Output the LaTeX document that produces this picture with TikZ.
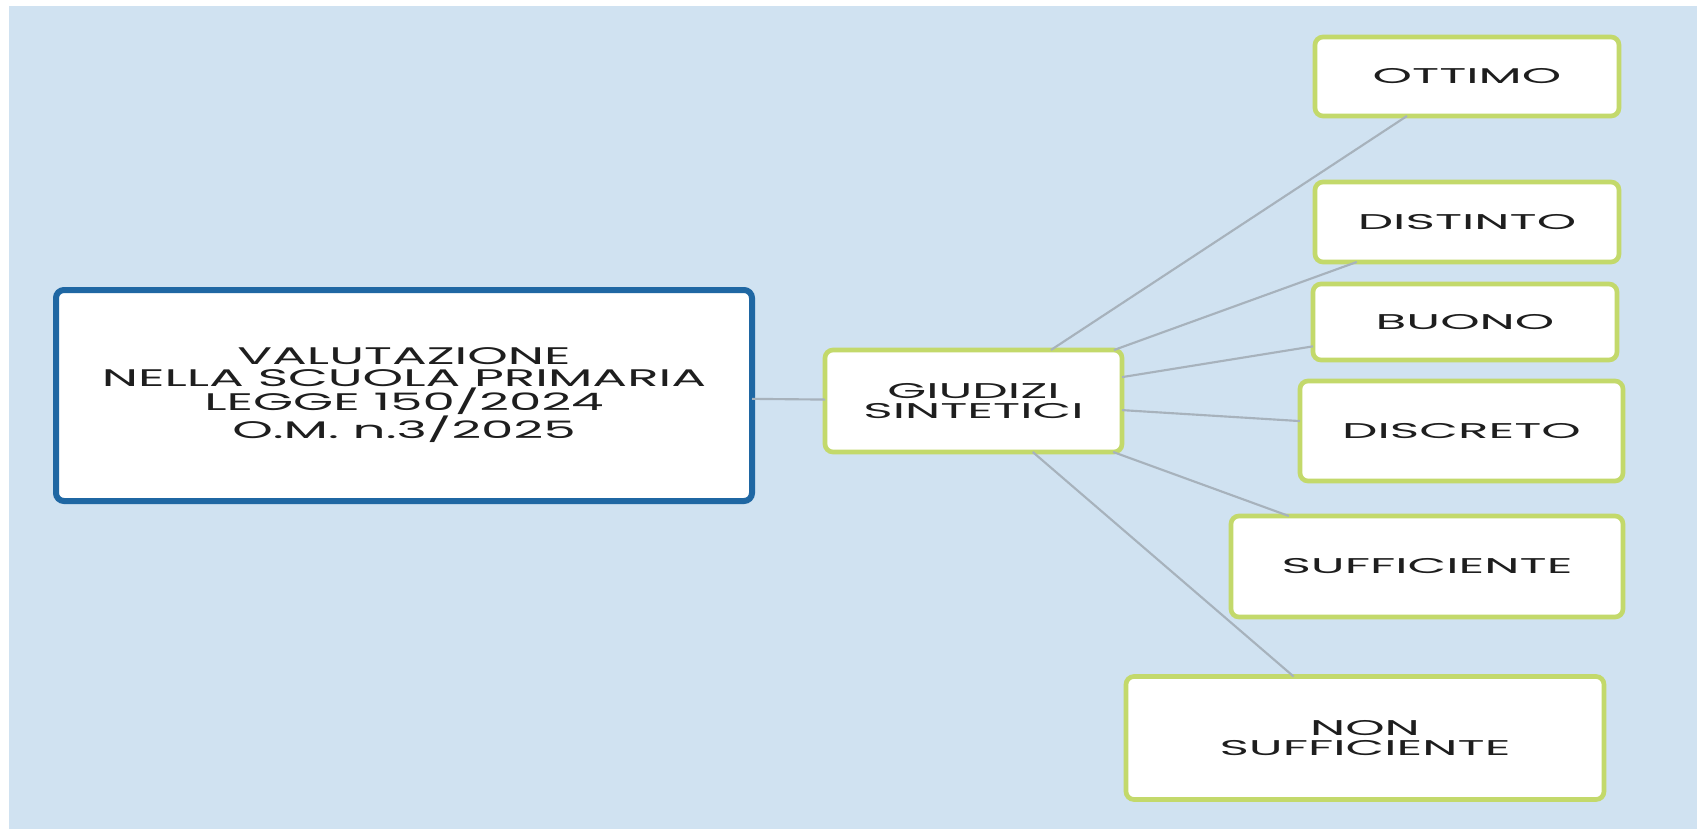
\documentclass[tikz,border=0pt]{standalone}
\usepackage{fontspec}
\setmainfont{Poppins}
\newfontfamily\bigfont{Poppins}[FakeStretch=2.15]
\newfontfamily\smallfont{Poppins}[FakeStretch=2.35]
\definecolor{bgblue}{HTML}{D0E2F1}
\definecolor{boxblue}{HTML}{1F67A3}
\definecolor{lime}{HTML}{C3D96B}
\definecolor{linkgray}{HTML}{A7B2BC}
\definecolor{txt}{HTML}{1E1E1E}
\tikzset{
  mainbox/.style={draw=boxblue, line width=4.5pt, fill=white, rounded corners=6pt,
    align=center, text=txt, inner sep=0pt, outer sep=0pt,
    font=\bigfont\fontsize{18pt}{16.5pt}\selectfont},
  leafbox/.style={draw=lime, line width=3.5pt, fill=white, rounded corners=6pt,
    align=center, text=txt, inner sep=0pt, outer sep=0pt,
    font=\smallfont\fontsize{16pt}{15.5pt}\selectfont},
  link/.style={draw=linkgray, line width=1.6pt}
}
\begin{document}
\begin{tikzpicture}[x=0.75pt,y=-0.75pt]
\useasboundingbox (0,0) rectangle (1697,829);
\fill[white] (0,0) rectangle (1697,829);
\fill[bgblue] (9,6) rectangle (1697,829);
% nodes (sizes in px)
\node[mainbox, minimum width=696*0.75pt, minimum height=211*0.75pt] (val) at (404,395.5)
  {VALUTAZIONE\\NELLA SCUOLA PRIMARIA\\LEGGE 150/2024\\O.M. n.3/2025};
\node[leafbox, minimum width=297*0.75pt, minimum height=102*0.75pt] (giu) at (973.5,401)
  {GIUDIZI\\SINTETICI};
\node[leafbox, minimum width=304*0.75pt, minimum height=79*0.75pt] (ott) at (1467,76.5) {OTTIMO};
\node[leafbox, minimum width=304*0.75pt, minimum height=80*0.75pt] (dis) at (1467,222) {DISTINTO};
\node[leafbox, minimum width=304*0.75pt, minimum height=76*0.75pt] (buo) at (1465,322) {BUONO};
\node[leafbox, minimum width=323*0.75pt, minimum height=100*0.75pt] (dcr) at (1461.5,431) {DISCRETO};
\node[leafbox, minimum width=392*0.75pt, minimum height=101*0.75pt] (suf) at (1427,566.5) {SUFFICIENTE};
\node[leafbox, minimum width=478*0.75pt, minimum height=123*0.75pt] (non) at (1365,738) {NON\\SUFFICIENTE};
% connectors
\draw[link] (val) -- (giu);
\draw[link] (giu) -- (ott);
\draw[link] (giu) -- (dis);
\draw[link] (giu) -- (buo);
\draw[link] (giu) -- (dcr);
\draw[link] (giu) -- (suf);
\draw[link] (giu) -- (non);
\end{tikzpicture}
\end{document}
